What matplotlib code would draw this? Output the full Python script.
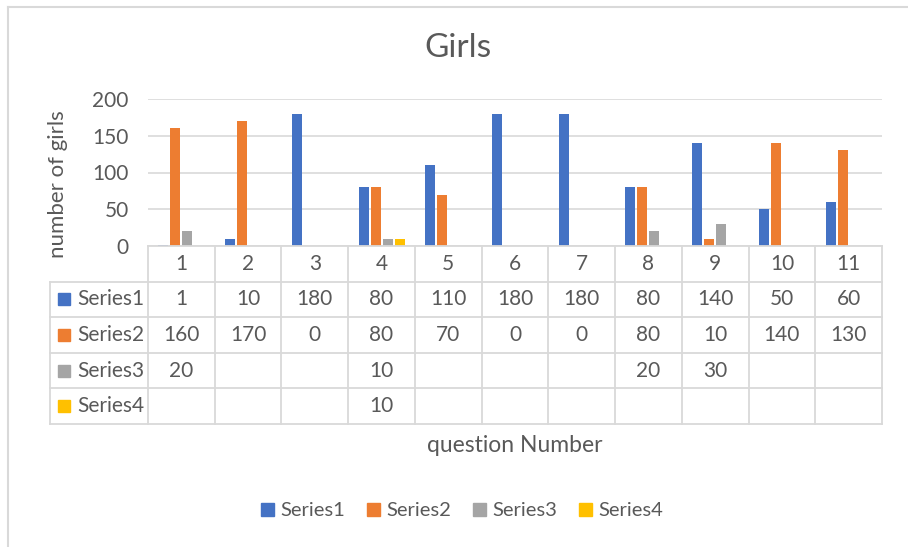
import numpy as np
import matplotlib.pyplot as plt
from matplotlib.patches import Patch
from matplotlib.lines import Line2D

plt.rcParams['font.family'] = ['Lato', 'DejaVu Sans']

# data
questions = [1, 2, 3, 4, 5, 6, 7, 8, 9, 10, 11]
series1 = [1, 10, 180, 80, 110, 180, 180, 80, 140, 50, 60]
series2 = [160, 170, 0, 80, 70, 0, 0, 80, 10, 140, 130]
series3 = [20, None, None, 10, None, None, None, 20, 30, None, None]
series4 = [None, None, None, 10, None, None, None, None, None, None, None]
names = ['Series1', 'Series2', 'Series3', 'Series4']
colors = ['#4472C4', '#ED7D31', '#A5A5A5', '#FFC000']
text_col = '#595959'
grid_col = '#D9D9D9'

W, H = 908, 547
fig = plt.figure(figsize=(W / 100, H / 100), dpi=100)

def box(x0, y0, x1, y1):
    # pixel box (top-left origin) -> figure fraction rect
    return [x0 / W, 1 - y1 / H, (x1 - x0) / W, (y1 - y0) / H]

# chart border (only left and top visible)
fig.add_artist(Line2D([7.5 / W, 7.5 / W], [0, 1 - 6.5 / H], color=grid_col, lw=1.5))
fig.add_artist(Line2D([7.5 / W, 1], [1 - 6.5 / H, 1 - 6.5 / H], color=grid_col, lw=1.5))

ax = fig.add_axes(box(148, 99, 882, 246))
x = np.arange(len(questions))
all_series = [series1, series2, series3, series4]
step = 0.18
width = 0.15
for i, s in enumerate(all_series):
    vals = [np.nan if v is None else v for v in s]
    ax.bar(x + (i - 1.5) * step, vals, width, color=colors[i], zorder=3)

ax.set_xlim(-0.5, len(questions) - 0.5)
ax.set_ylim(0, 200)
ax.set_yticks([0, 50, 100, 150, 200])
ax.yaxis.grid(True, color=grid_col, lw=1.2, zorder=0)
for sp in ax.spines.values():
    sp.set_visible(False)
ax.tick_params(axis='y', length=0, labelsize=15, labelcolor=text_col, pad=14)
ax.set_xticks([])

fig.text(58 / W, 1 - 184 / H, 'number of girls', rotation=90, ha='center', va='center',
         fontsize=16, color=text_col)
fig.text(458 / W, 1 - 48 / H, 'Girls', ha='center', va='center', fontsize=24, color=text_col)

# data table below the plot
tab = fig.add_axes(box(148, 246, 882, 424))
tab.set_xlim(-0.5, len(questions) - 0.5)
tab.set_ylim(5, 0)
tab.axis('off')
left = -0.5 - 98 / 66.7
lc = dict(color=grid_col, lw=1.3, clip_on=False)
tab.plot([-0.5, len(questions) - 0.5], [0, 0], **lc)
for r in range(1, 6):
    tab.plot([left, len(questions) - 0.5], [r, r], **lc)
for k in range(len(questions) + 1):
    tab.plot([k - 0.5, k - 0.5], [0, 5], **lc)
tab.plot([left, left], [1, 5], **lc)

fs = 15
for j, q in enumerate(questions):
    tab.text(j, 0.5, str(q), ha='center', va='center', fontsize=fs, color=text_col)
for i, s in enumerate(all_series):
    row = i + 1.5
    tab.plot([-0.5 - (148 - 64.5) / 66.7], [row], marker='s', markersize=8.5,
             color=colors[i], clip_on=False)
    tab.text(-0.5 - (148 - 77) / 66.7, row, names[i], ha='left', va='center',
             fontsize=fs, color=text_col, clip_on=False)
    for j, v in enumerate(s):
        if v is not None:
            tab.text(j, row, str(v), ha='center', va='center', fontsize=fs, color=text_col)

fig.text(515 / W, 1 - 446 / H, 'question Number', ha='center', va='center',
         fontsize=16.5, color=text_col)

handles = [Patch(color=c) for c in colors]
fig.legend(handles, names, loc='center', bbox_to_anchor=(462 / W, 1 - 511 / H),
           ncol=4, frameon=False, fontsize=14.5, labelcolor=text_col,
           handlelength=0.65, handleheight=0.65, handletextpad=0.3, columnspacing=1.1)

fig.savefig('out.png', dpi=100, facecolor='white')
